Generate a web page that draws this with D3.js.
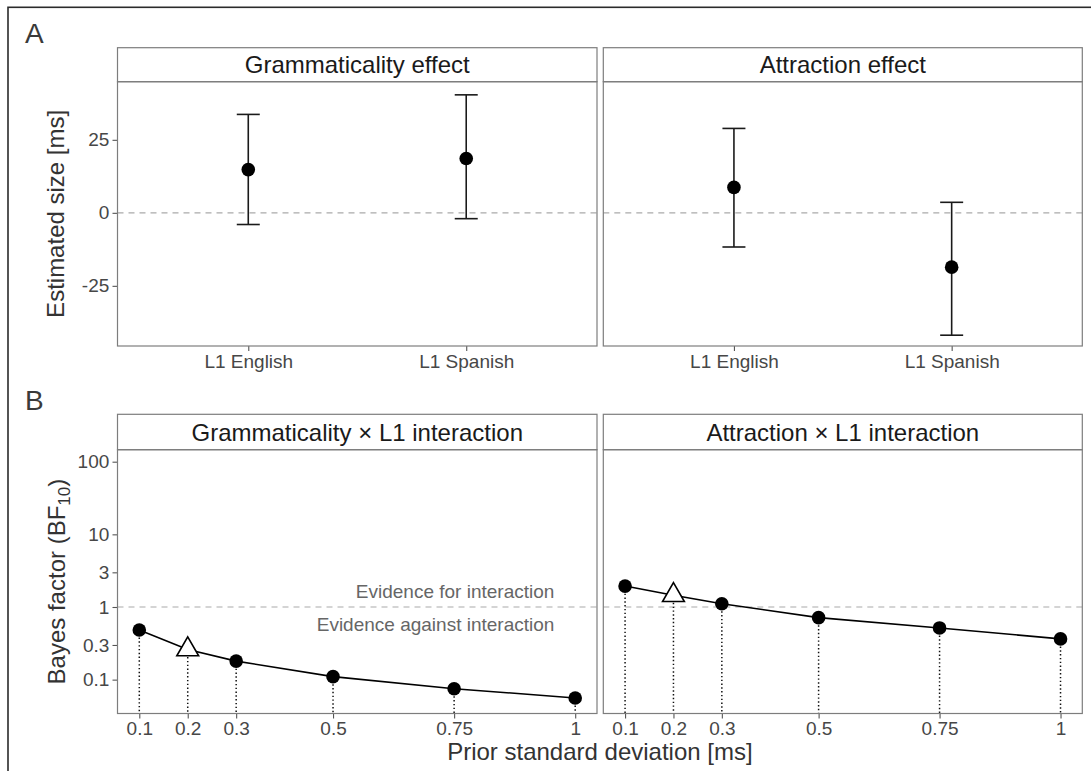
<!DOCTYPE html>
<html>
<head>
<meta charset="utf-8">
<script src="https://cdn.jsdelivr.net/npm/d3@7"></script>
<style>
  body { margin: 0; background: #fff; }
  svg { display: block; font-family: "Liberation Sans", Arial, Helvetica, sans-serif; }
</style>
</head>
<body>
<div id="chart"></div>
<script>
// panel A: effect estimates with intervals (ms)
const groups = ['L1 English', 'L1 Spanish'];
const effectTitles = ['Grammaticality effect', 'Attraction effect'];
const effectMean = [[14.8, 18.6], [8.7, -18.6]];
const effectLower = [[-4.0, -2.0], [-11.7, -41.9]];
const effectUpper = [[33.7, 40.4], [28.9, 3.6]];
const effectTicks = [-25, 0, 25];

// panel B: Bayes factors by prior sd
const bfTitles = ['Grammaticality × L1 interaction', 'Attraction × L1 interaction'];
const priorSd = [0.1, 0.2, 0.3, 0.5, 0.75, 1];
const bfValues = [
  [0.483, 0.26, 0.18, 0.11, 0.075, 0.056],
  [1.94, 1.45, 1.11, 0.713, 0.515, 0.364],
];
const mainPrior = 0.2; // drawn as triangle
const bfTicks = [0.1, 0.3, 1, 3, 10, 100];
const bfLimits = [0.05, 100];

const width = 1091;
const height = 771;
const cols = [[117.5, 597], [603.3, 1082.3]];
const rowA = { strip: 47.7, top: 81.7, bottom: 346 };
const rowB = { strip: 414.3, top: 449.7, bottom: 713.5 };

const borderColor = '#7d7d7d';
const tickColor = '#474747';

const svg = d3.select('#chart')
  .append('svg')
  .attr('width', width)
  .attr('height', height)
  .attr('viewBox', [0, 0, width, height]);

// outer frame (runs off the right and bottom edges)
svg.append('rect')
  .attr('x', 8).attr('y', 7.3)
  .attr('width', width + 20).attr('height', height + 20)
  .attr('fill', 'none')
  .attr('stroke', '#2b2b2b')
  .attr('stroke-width', 1.6);

const fmt = (d) => String(d);

function styleAxis(g) {
  g.select('.domain').remove();
  g.selectAll('.tick line').attr('stroke', '#555').attr('stroke-width', 1.1);
  g.selectAll('.tick text')
    .attr('fill', tickColor)
    .style('font-size', '19px');
}

function frame(col, row, title) {
  const [x0, x1] = cols[col];
  const g = svg.append('g');
  g.append('rect')
    .attr('x', x0).attr('y', row.strip)
    .attr('width', x1 - x0).attr('height', row.top - row.strip)
    .attr('fill', '#fff')
    .attr('stroke', borderColor)
    .attr('stroke-width', 1.2);
  g.append('text')
    .attr('x', (x0 + x1) / 2)
    .attr('y', (row.strip + row.top) / 2)
    .attr('dy', '0.36em')
    .attr('text-anchor', 'middle')
    .attr('fill', '#1a1a1a')
    .style('font-size', '24px')
    .text(title);
  return g;
}

function panelBorder(col, row) {
  const [x0, x1] = cols[col];
  svg.append('rect')
    .attr('x', x0).attr('y', row.top)
    .attr('width', x1 - x0).attr('height', row.bottom - row.top)
    .attr('fill', 'none')
    .attr('stroke', borderColor)
    .attr('stroke-width', 1.2);
}

// ---------- A ----------
const yA = d3.scaleLinear([-45.6, 44.9], [rowA.bottom, rowA.top]);

effectTitles.forEach((title, c) => {
  frame(c, rowA, title);
  const x = d3.scalePoint(groups, cols[c]).padding(0.6);

  svg.append('line')
    .attr('x1', cols[c][0]).attr('x2', cols[c][1])
    .attr('y1', yA(0)).attr('y2', yA(0))
    .attr('stroke', '#aaa')
    .attr('stroke-width', 1.1)
    .attr('stroke-dasharray', '6,5');

  const rows = groups.map((grp, i) => ({
    grp, mean: effectMean[c][i], lo: effectLower[c][i], hi: effectUpper[c][i],
  }));

  const bars = svg.append('g')
    .attr('stroke', '#1a1a1a')
    .attr('stroke-width', 1.6);
  bars.selectAll('.v').data(rows).join('line')
    .attr('x1', (d) => x(d.grp)).attr('x2', (d) => x(d.grp))
    .attr('y1', (d) => yA(d.lo)).attr('y2', (d) => yA(d.hi));
  bars.selectAll('.lo').data(rows).join('line')
    .attr('x1', (d) => x(d.grp) - 11.5).attr('x2', (d) => x(d.grp) + 11.5)
    .attr('y1', (d) => yA(d.lo)).attr('y2', (d) => yA(d.lo));
  bars.selectAll('.hi').data(rows).join('line')
    .attr('x1', (d) => x(d.grp) - 11.5).attr('x2', (d) => x(d.grp) + 11.5)
    .attr('y1', (d) => yA(d.hi)).attr('y2', (d) => yA(d.hi));

  svg.append('g').selectAll('circle').data(rows).join('circle')
    .attr('cx', (d) => x(d.grp))
    .attr('cy', (d) => yA(d.mean))
    .attr('r', 6.8)
    .attr('fill', '#000');

  svg.append('g')
    .attr('transform', `translate(0,${rowA.bottom})`)
    .call(d3.axisBottom(x).tickSize(5).tickPadding(3.2))
    .call(styleAxis);

  if (c === 0) {
    svg.append('g')
      .attr('transform', `translate(${cols[0][0]},0)`)
      .call(d3.axisLeft(yA).tickValues(effectTicks).tickFormat(fmt).tickSize(5).tickPadding(3.2))
      .call(styleAxis);
  }
  panelBorder(c, rowA);
});

// ---------- B ----------
const lo = Math.log10(bfLimits[0]);
const hi = Math.log10(bfLimits[1]);
const pad = (hi - lo) * 0.05;
const yB = d3.scaleLog([10 ** (lo - pad), 10 ** (hi + pad)], [rowB.bottom, rowB.top]);
const sdExt = d3.extent(priorSd);
const sdPad = (sdExt[1] - sdExt[0]) * 0.05;

bfTitles.forEach((title, c) => {
  frame(c, rowB, title);
  const x = d3.scaleLinear([sdExt[0] - sdPad, sdExt[1] + sdPad], cols[c]);
  const pts = priorSd.map((sd, i) => ({ sd, bf: bfValues[c][i] }));

  svg.append('line')
    .attr('x1', cols[c][0]).attr('x2', cols[c][1])
    .attr('y1', yB(1)).attr('y2', yB(1))
    .attr('stroke', '#aaa')
    .attr('stroke-width', 1.1)
    .attr('stroke-dasharray', '6,5');

  svg.append('g')
    .attr('stroke', '#111')
    .attr('stroke-width', 1.5)
    .attr('stroke-dasharray', '1.4,2.4')
    .selectAll('line').data(pts).join('line')
    .attr('x1', (d) => x(d.sd)).attr('x2', (d) => x(d.sd))
    .attr('y1', (d) => yB(d.bf)).attr('y2', rowB.bottom);

  svg.append('path')
    .datum(pts)
    .attr('fill', 'none')
    .attr('stroke', '#000')
    .attr('stroke-width', 1.6)
    .attr('d', d3.line().x((d) => x(d.sd)).y((d) => yB(d.bf)));

  svg.append('g').selectAll('circle')
    .data(pts.filter((d) => d.sd !== mainPrior)).join('circle')
    .attr('cx', (d) => x(d.sd))
    .attr('cy', (d) => yB(d.bf))
    .attr('r', 6.8)
    .attr('fill', '#000');

  // R pch 24 style triangle, centred on the value
  const s = 8.1;
  const tri = [[0, -1.555 * s], [1.3468 * s, 0.7776 * s], [-1.3468 * s, 0.7776 * s]];
  svg.append('g').selectAll('path')
    .data(pts.filter((d) => d.sd === mainPrior)).join('path')
    .attr('transform', (d) => `translate(${x(d.sd)},${yB(d.bf)})`)
    .attr('d', `M${tri.join('L')}Z`)
    .attr('fill', '#fff')
    .attr('stroke', '#000')
    .attr('stroke-width', 1.6);

  if (c === 0) {
    const lab = svg.append('g')
      .attr('text-anchor', 'end')
      .attr('fill', '#666')
      .style('font-size', '19px');
    lab.append('text')
      .attr('x', x(0.957)).attr('y', yB(1) - 8.7)
      .text('Evidence for interaction');
    lab.append('text')
      .attr('x', x(0.957)).attr('y', yB(1) + 24)
      .text('Evidence against interaction');

    svg.append('g')
      .attr('transform', `translate(${cols[0][0]},0)`)
      .call(d3.axisLeft(yB).tickValues(bfTicks).tickFormat(fmt).tickSize(5).tickPadding(3.2))
      .call(styleAxis);
  }

  svg.append('g')
    .attr('transform', `translate(0,${rowB.bottom})`)
    .call(d3.axisBottom(x).tickValues(priorSd).tickFormat(fmt).tickSize(5).tickPadding(3.2))
    .call(styleAxis);

  panelBorder(c, rowB);
});

// titles and tags
const titleStyle = (t) => t.attr('fill', '#333').style('font-size', '24px');

svg.append('text')
  .attr('transform', `translate(64,${(rowA.top + rowA.bottom) / 2}) rotate(-90)`)
  .attr('text-anchor', 'middle')
  .call(titleStyle)
  .text('Estimated size [ms]');

const bfTitle = svg.append('text')
  .attr('transform', `translate(65,${(rowB.top + rowB.bottom) / 2}) rotate(-90)`)
  .attr('text-anchor', 'middle')
  .call(titleStyle);
bfTitle.append('tspan').text('Bayes factor (BF');
bfTitle.append('tspan').attr('dy', 5).style('font-size', '17px').text('10');
bfTitle.append('tspan').attr('dy', -5).text(')');

svg.append('text')
  .attr('x', (cols[0][0] + cols[1][1]) / 2)
  .attr('y', 760)
  .attr('text-anchor', 'middle')
  .call(titleStyle)
  .text('Prior standard deviation [ms]');

svg.append('text').attr('x', 25).attr('y', 43.3)
  .attr('fill', '#3a3a3a').style('font-size', '28px').text('A');
svg.append('text').attr('x', 25).attr('y', 410)
  .attr('fill', '#3a3a3a').style('font-size', '28px').text('B');
</script>
</body>
</html>
